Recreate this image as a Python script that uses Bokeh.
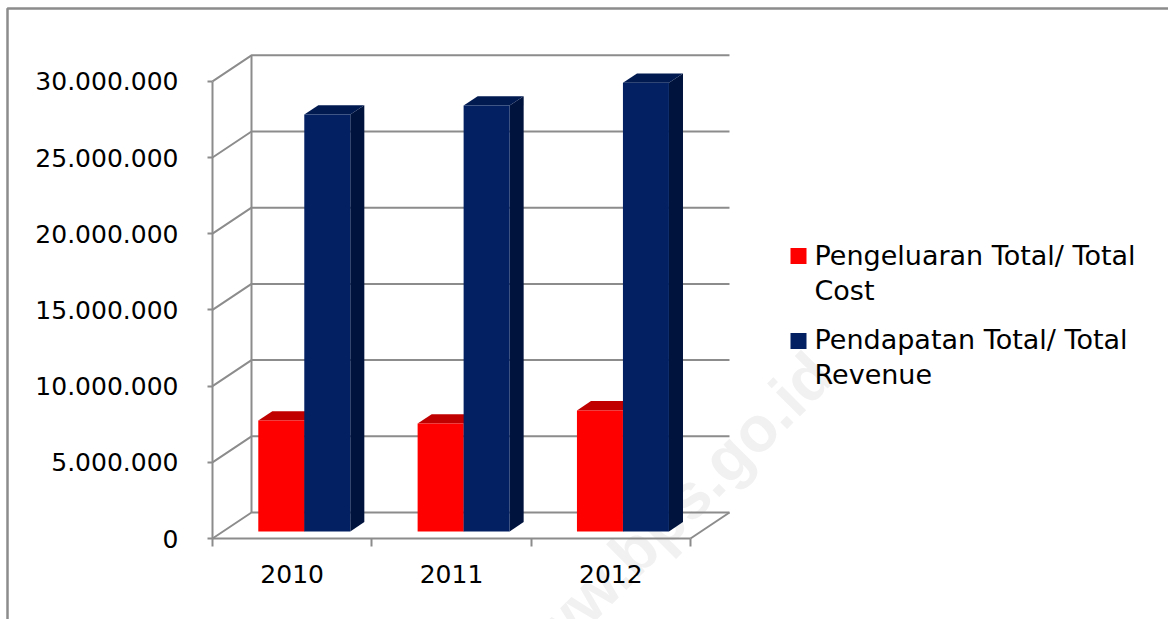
import numpy as np
from bokeh.plotting import figure
from bokeh.models import Range1d, LinearAxis, FixedTicker
from bokeh.core.properties import value
from bokeh.embed import file_html
from bokeh.resources import INLINE

# ---------------- data ----------------
years = ["2010", "2011", "2012"]
cost = [7280000, 7080000, 7940000]          # Pengeluaran Total / Total Cost
revenue = [27360000, 27950000, 29440000]    # Pendapatan Total / Total Revenue
series_labels = ["Pengeluaran Total/ Total\nCost", "Pendapatan Total/ Total\nRevenue"]
y_ticks = [0, 5000000, 10000000, 15000000, 20000000, 25000000, 30000000]
y_tick_labels = ["0", "5.000.000", "10.000.000", "15.000.000",
                 "20.000.000", "25.000.000", "30.000.000"]

# ---------------- geometry (pixel layout of the 3-D look) ----------------
W, H = 1168, 619
PX_X = 159.33              # px per category slot
PX_Y = 15.24 / 1e6         # px per value unit
AX_X = 212                 # canvas x of the value axis
AX_Y = 538                 # canvas y (from top) of the zero line
x_start, x_end = -AX_X / PX_X, (W - AX_X) / PX_X
y_start, y_end = -(H - AX_Y) / PX_Y, AX_Y / PX_Y


def cx(px):
    return (px - AX_X) / PX_X


def cy(py):
    return (AX_Y - py) / PX_Y


DX, DY = 39 / PX_X, 26 / PX_Y      # depth of the floor / side wall
F0, FD = 0.27, 0.36                # bar front depth, bar depth (fractions)
BW = 46 / PX_X                     # bar width
SHIFT = 0.01
GRAY = "#8C8C8C"
FONT = "DejaVu Sans"

p = figure(width=W, height=H, output_backend="svg", toolbar_location=None,
           x_range=Range1d(x_start, x_end), y_range=Range1d(y_start, y_end),
           x_axis_location=None, y_axis_location=None, min_border=0)
p.outline_line_color = None
p.grid.visible = False
p.background_fill_color = "white"
p.border_fill_color = "white"

# watermark
p.text(x=[cx(662)], y=[cy(522)], text=["www.bps.go.id"],
       angle=np.pi / 4, text_align="center", text_baseline="middle",
       text_font=value("Liberation Sans"), text_font_style="bold",
       text_font_size="64px", text_color="#F1F1F1")

# outer border (top and left edges)
p.line([cx(7), cx(7), x_end], [y_start, cy(8), cy(8)],
       line_color=GRAY, line_width=2.5)

# walls: gridlines on side wall + back wall
n = len(years)
gx = [[0, DX, n + DX] for v in y_ticks]
gy = [[v, v + DY, v + DY] for v in y_ticks]
p.multi_line(gx, gy, line_color=GRAY, line_width=2)
p.line([DX, DX], [DY, y_ticks[-1] + DY], line_color=GRAY, line_width=2)
p.line([n, n + DX], [0, DY], line_color=GRAY, line_width=2)

# bars
styles = [("#FF0000", "#C00000", "#A00000"), ("#022062", "#011A50", "#00133D")]
xs_idx = np.arange(n)
for s, vals in enumerate([cost, revenue]):
    vals = np.array(vals, dtype=float)
    left = xs_idx + 0.5 - BW + s * BW + F0 * DX + SHIFT
    right = left + BW
    bottom = np.full(n, F0 * DY)
    top = vals + F0 * DY
    front, topc, sidec = styles[s]
    side_x = [[r, r + FD * DX, r + FD * DX, r] for r in right]
    side_y = [[b, b + FD * DY, t + FD * DY, t] for b, t in zip(bottom, top)]
    p.patches(side_x, side_y, fill_color=sidec, line_color=None)
    top_x = [[l, r, r + FD * DX, l + FD * DX] for l, r in zip(left, right)]
    top_y = [[t, t, t + FD * DY, t + FD * DY] for t in top]
    p.patches(top_x, top_y, fill_color=topc, line_color=None)
    p.quad(left=left, right=right, bottom=bottom, top=top,
           fill_color=front, line_color=None)

# legend (drawn manually so that wrapped labels keep their line spacing)
leg_sq_y = [cy(255.5), cy(340.5)]
p.scatter(x=[cx(798)] * 2, y=leg_sq_y, marker="square", size=16,
          fill_color=[styles[0][0], styles[1][0]], line_color=None)
p.text(x=[cx(814)] * 2, y=[cy(239), cy(323)], text=series_labels,
       text_align="left", text_baseline="top", text_font=value(FONT),
       text_font_size="27px", text_line_height=1.16, text_color="black")

# value axis
yaxis = LinearAxis(fixed_location=0, ticker=FixedTicker(ticks=y_ticks),
                   bounds=(0, y_ticks[-1]),
                   major_label_overrides=dict(zip(y_ticks, y_tick_labels)),
                   major_tick_out=5, major_tick_in=0, minor_tick_out=0, minor_tick_in=0,
                   axis_line_color=GRAY, axis_line_width=2,
                   major_tick_line_color=GRAY, major_tick_line_width=2,
                   major_label_standoff=29, major_label_text_font=FONT,
                   major_label_text_font_size="25px", major_label_text_color="black")
p.add_layout(yaxis, "left")

# category axis: line and separators
xticks_axis = LinearAxis(fixed_location=0, ticker=FixedTicker(ticks=list(range(n + 1))),
                         bounds=(0, n),
                         major_label_overrides={i: "" for i in range(n + 1)},
                         major_tick_out=8, major_tick_in=0, minor_tick_out=0, minor_tick_in=0,
                         axis_line_color=GRAY, axis_line_width=2,
                         major_tick_line_color=GRAY, major_tick_line_width=2)
p.add_layout(xticks_axis, "below")

# category labels
cat_pos = [i + 0.5 for i in range(n)]
xlab_axis = LinearAxis(fixed_location=0, ticker=FixedTicker(ticks=cat_pos),
                       major_label_overrides=dict(zip(cat_pos, years)),
                       axis_line_color=None, major_tick_line_color=None,
                       major_tick_out=0, major_tick_in=0, minor_tick_out=0, minor_tick_in=0,
                       major_label_standoff=26, major_label_text_font=FONT,
                       major_label_text_font_size="25px", major_label_text_color="black")
p.add_layout(xlab_axis, "below")

open("out.html", "w").write(file_html(p, INLINE))
